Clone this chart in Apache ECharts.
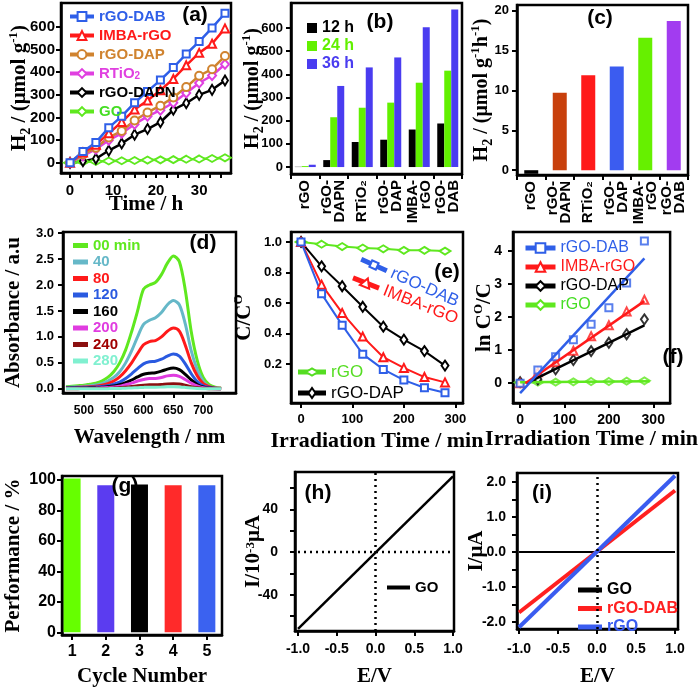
<!DOCTYPE html>
<html><head><meta charset="utf-8">
<script src="https://cdn.jsdelivr.net/npm/echarts@6/dist/echarts.min.js"></script>
<style>html,body{margin:0;padding:0;background:#fff}#c{width:700px;height:691px}</style>
</head><body><div id="c"></div>
<script>
const SANS = '"Liberation Sans", Arial, sans-serif';
const NARROW = '"Liberation Sans Narrow", "Arial Narrow", "Liberation Sans", Arial, sans-serif';
const SERIF = '"Liberation Serif", "Times New Roman", serif';

// ---------- (a) H2 evolution vs time ----------
const aTime  = [0,3,6,9,12,15,18,21,24,27,30,33,36];
const aDAB   = [0,50,90,155,205,265,315,365,420,480,535,595,660];
const aIMBA  = [0,45,80,130,180,235,275,320,370,430,485,525,593];
const aDAP   = [0,37,66,112,140,187,222,252,288,334,384,413,471];
const aRTiO2 = [0,30,60,100,130,170,205,232,265,308,352,385,435];
const aDAPN  = [0,7,18,54,85,124,149,179,234,263,300,322,363];
const aGO    = [0,5,6,8,9,10,12,13,14,16,17,19,22];
const aXTicks = [0,10,20,30];
const aXMinor = [2.5,5,7.5,12.5,15,17.5,22.5,25,27.5,32.5,35];
const aYTicks = [0,100,200,300,400,500,600];

// ---------- (b) H2 at 12/24/36 h ----------
const bCats = ['rGO','rGO-\nDAPN','RTiO₂','rGO-\nDAP','IMBA-\nrGO','rGO-\nDAB'];
const b12 = [1,30,108,118,162,188];
const b24 = [4,215,256,278,364,416];
const b36 = [10,350,430,473,603,680];
const bYTicks = [0,100,200,300,400,500,600];

// ---------- (c) H2 rate ----------
const cVals = [-0.45,9.7,11.9,13.0,16.6,18.7];
const cYTicks = [0,5,10,15,20];

// ---------- (d) absorbance spectra ----------
const dWave = [470,480,490,500,510,520,530,540,550,560,570,580,590,600,610,620,630,640,650,660,670,680,690,700,710,720,730];
const d00  = [0.04,0.05,0.06,0.07,0.09,0.11,0.15,0.22,0.33,0.5,0.75,1.1,1.5,1.92,2.0,2.05,2.2,2.42,2.56,2.45,1.9,1.1,0.55,0.22,0.08,0.03,0.01];
const d40  = [0.03,0.035,0.04,0.05,0.06,0.075,0.1,0.15,0.22,0.33,0.5,0.73,1.0,1.24,1.32,1.37,1.47,1.62,1.7,1.62,1.25,0.73,0.37,0.15,0.05,0.02,0.01];
const d80  = [0.02,0.025,0.03,0.035,0.04,0.05,0.07,0.1,0.15,0.23,0.35,0.5,0.68,0.85,0.91,0.93,1.0,1.11,1.17,1.11,0.84,0.5,0.25,0.1,0.04,0.015,0.01];
const d120 = [0.015,0.02,0.02,0.025,0.03,0.035,0.045,0.06,0.09,0.13,0.2,0.29,0.39,0.48,0.52,0.53,0.57,0.63,0.67,0.63,0.48,0.29,0.14,0.06,0.025,0.01,0.005];
const d160 = [0.01,0.012,0.015,0.015,0.02,0.02,0.03,0.04,0.055,0.08,0.12,0.17,0.23,0.28,0.3,0.31,0.34,0.38,0.4,0.37,0.28,0.17,0.085,0.035,0.015,0.006,0.003];
const d200 = [0.006,0.008,0.01,0.01,0.012,0.015,0.02,0.025,0.035,0.05,0.08,0.11,0.15,0.18,0.2,0.2,0.22,0.25,0.26,0.24,0.18,0.11,0.055,0.023,0.01,0.004,0.002];
const d240 = [0.003,0.004,0.004,0.005,0.005,0.006,0.008,0.01,0.014,0.02,0.03,0.043,0.058,0.07,0.077,0.078,0.085,0.095,0.1,0.093,0.07,0.043,0.021,0.009,0.004,0.002,0.001];
const d280 = [0,0,0,0,0,0.002,0.003,0.004,0.006,0.008,0.012,0.017,0.023,0.028,0.031,0.031,0.034,0.038,0.04,0.037,0.028,0.017,0.008,0.004,0.002,0.001,0];
const dNames = ['00 min','40','80','120','160','200','240','280'];
const dXTicks = [500,550,600,650,700];
const dYTicks = [0,0.5,1,1.5,2,2.5,3];

// ---------- (e) C/C0 ----------
const eTime = [0,40,80,120,160,200,240,280];
const eDAB  = [1.0,0.66,0.455,0.265,0.165,0.095,0.045,0.012];
const eIMBA = [1.0,0.72,0.535,0.38,0.245,0.175,0.115,0.08];
const eDAP  = [1.0,0.84,0.71,0.575,0.445,0.36,0.285,0.19];
const eRGO  = [1.0,0.985,0.97,0.96,0.955,0.945,0.945,0.94];
const eXTicks = [0,100,200,300];
const eYTicks = [0.2,0.4,0.6,0.8,1.0];

// ---------- (f) ln C0/C ----------
const fDAB  = [0,0.4,0.8,1.31,1.78,2.28,3.03,4.3];
const fIMBA = [0,0.33,0.63,0.98,1.42,1.75,2.17,2.52];
const fDAP  = [0.03,0.12,0.42,0.7,0.97,1.22,1.48,1.93];
const fRGO  = [0.02,0.03,0.03,0.04,0.05,0.05,0.06,0.07];
const fFitDAB  = [[0,-0.3],[280,3.77]];
const fFitIMBA = [[12,0],[280,2.48]];
const fFitDAP  = [[15,0],[280,1.75]];
const fFitRGO  = [[0,0.03],[292,0.06]];
const fXTicks = [0,100,200,300];
const fYTicks = [0,1,2,3,4];

// ---------- (g) cycling ----------
const gCycle = [1,2,3,4,5];
const gPerf  = [101,96.5,97,96.5,96.5];
const gYTicks = [0,20,40,60,80,100];

// ---------- (h) I-V GO ----------
const hE  = [-1,1];
const hGO = [-72,71];
const hZero = [0,0];
const hXTicks = [-1,-0.5,0,0.5,1];
const hYTicks = [-40,0,40];
const hYMinor = [-60,-20,20,60];

// ---------- (i) I-V ----------
const iE   = [-1,1];
const iGO  = [0,0];
const iDAB = [-1.73,1.75];
const iRGO = [-2.15,2.17];
const iXTicks = [-1,-0.5,0,0.5,1];
const iYTicks = [-2,-1,0,1,2];
const iYMinor = [-1.5,-0.5,0.5,1.5];

// ---------------- styling ----------------
const C = {blue:'#2f5fe8', red:'#ff1a1a', orange:'#d0832f', mag:'#e040e0', black:'#000', green:'#5fe81f'};
const bColors = ['#000000','#62f000','#4a3cf0'];
const cColors = ['#000000','#c8400c','#ff1a1a','#3b5cf0','#66f000','#a23cf0'];
const gColors = ['#66ff00','#5b3cf0','#000000','#ff2a2a','#3b62f0'];
const dColors = ['#5fe81f','#66b8c8','#ff1a1a','#2a5ae0','#000000','#e03ce0','#8b1010','#80f0d0'];

const RICH = {
  sub:{fontFamily:SERIF,fontWeight:'bold',fontSize:14,lineHeight:10,verticalAlign:'bottom',color:'#000'},
  sup:{fontFamily:SERIF,fontWeight:'bold',fontSize:13,lineHeight:10,verticalAlign:'top',color:'#000'}
};
function axis(o){
  const a = {
    type:o.type||'value', gridIndex:o.g,
    axisLine:{show:true,onZero:false,lineStyle:{color:'#000',width:2.5}},
    axisTick:{show:true,length:o.tickLen||5,lineStyle:{color:'#000',width:2}},
    minorTick:{show:false},
    splitLine:{show:false}, minorSplitLine:{show:false},
    axisLabel:Object.assign({color:'#000',fontFamily:SANS,fontWeight:'bold',fontSize:o.fs||13,margin:o.margin||6,hideOverlap:false}, o.label||{}),
    name:o.name||'', nameLocation:'middle', nameGap:o.gap||20, nameMoveOverlap:false,
    nameTextStyle:{fontFamily:SERIF,fontWeight:'bold',fontSize:o.nfs||21,color:'#000',lineHeight:o.nlh||26,rich:RICH}
  };
  if (o.type === 'category') { a.data = o.data; a.boundaryGap = true; }
  else {
    a.min = o.min; a.max = o.max;
    const dec = o.dec || 0;
    a.axisLabel.customValues = o.ticks;
    a.axisLabel.formatter = v => Number(v).toFixed(dec);
    a.axisTick.customValues = o.ticks.concat(o.minor || []).sort((p,q)=>p-q);
  }
  return a;
}
function pairs(xs, ys){ return xs.map((x,i)=>[x, ys[i]]); }
function lineS(name, idx, data, color, sym, size, width, extra){
  return Object.assign({
    type:'line', name, xAxisIndex:idx, yAxisIndex:idx, data,
    symbol:sym||'none', symbolSize:size||6, showSymbol:!!sym,
    lineStyle:{color, width:width||2}, itemStyle:{color, borderWidth:2},
    animation:false, silent:true
  }, extra||{});
}
const nameFmt = n => { const s = n.split('|')[0]; return s === 'RTiO2' ? 'RTiO{s|2}' : s; };
const catLabel = {rotate:90,margin:6,fontSize:15,lineHeight:13,fontFamily:NARROW,fontWeight:'bold',color:'#000'};

const grids = [
  {left:61, top:3, width:170, height:170},   // a
  {left:291, top:3, width:171, height:171},  // b
  {left:517, top:5, width:171, height:170},  // c
  {left:62, top:232, width:174, height:161}, // d
  {left:291, top:232, width:172, height:171},// e
  {left:513, top:232, width:180, height:171},// f
  {left:61, top:476, width:161, height:159}, // g
  {left:295, top:472, width:159, height:161},// h
  {left:517, top:473, width:161, height:160} // i
].map(g => Object.assign({show:true,borderColor:'#000',borderWidth:2.5,backgroundColor:'rgba(0,0,0,0)'}, g));

const xAxes = [
  axis({g:0,min:-2.1,max:37.4,ticks:aXTicks,minor:aXMinor,fs:15,margin:10,name:'Time / h',gap:19}),
  axis({g:1,type:'category',data:bCats,label:catLabel}),
  axis({g:2,type:'category',data:bCats,label:catLabel}),
  axis({g:3,min:465,max:755,ticks:dXTicks,fs:12,margin:12,name:'Wavelength / nm',gap:32}),
  axis({g:4,min:-19.5,max:315,ticks:eXTicks,fs:13,margin:10,name:'Irradiation Time / min',gap:25,nfs:22}),
  axis({g:5,min:-16,max:338,ticks:fXTicks,fs:14,margin:10,name:'Irradiation Time / min',gap:23,nfs:22}),
  axis({g:6,min:0.7,max:5.45,ticks:gCycle,fs:16,margin:9,name:'Cycle Number',gap:29}),
  axis({g:7,min:-1.039,max:1.013,ticks:hXTicks,dec:1,fs:14,margin:11,name:'E/V',gap:33}),
  axis({g:8,min:-1.026,max:1.038,ticks:iXTicks,dec:1,fs:14,margin:13,name:'E/V',gap:35})
];
const yAxes = [
  axis({g:0,min:-45,max:705,ticks:aYTicks,fs:15,margin:6,name:'H{sub|2} / (μmol g{sup|-1})',gap:28}),
  axis({g:1,min:-30,max:708,ticks:bYTicks,fs:13,margin:8,name:'H{sub|2} / (μmol g{sup|-1})',gap:25,nfs:20}),
  axis({g:2,min:-0.6,max:20.7,ticks:cYTicks,fs:13,margin:8,name:'H{sub|2} / (μmol g{sup|-1}h{sup|-1})',gap:22,nfs:20}),
  axis({g:3,min:-0.08,max:3.02,ticks:dYTicks,dec:1,fs:13,margin:9,name:'Absorbance / a.u',gap:36}),
  axis({g:4,min:-0.055,max:1.065,ticks:eYTicks,dec:1,fs:13,margin:9,name:'C/C{sup|O}',gap:33}),
  axis({g:5,min:-0.6,max:4.57,ticks:fYTicks,fs:14,margin:11,name:'ln C{sup|O}/C',gap:15}),
  axis({g:6,min:-1.8,max:102.6,ticks:gYTicks,fs:16,margin:6,name:'Performance / %',gap:35}),
  axis({g:7,min:-74,max:75,ticks:hYTicks,minor:hYMinor,fs:14,margin:17,name:'I/10{sup|-3}μA',gap:31,nlh:20}),
  axis({g:8,min:-2.2,max:2.25,ticks:iYTicks,minor:iYMinor,dec:1,fs:14,margin:11,name:'I/μA',gap:27})
];

const series = [];
// (a)
series.push(lineS('GO|a',0,pairs(aTime,aGO),C.green,'emptyDiamond',[12,7],2.5));
series.push(lineS('rGO-DAPN|a',0,pairs(aTime,aDAPN),C.black,'emptyDiamond',[6,10],2.5));
series.push(lineS('RTiO2|a',0,pairs(aTime,aRTiO2),C.mag,'emptyDiamond',[8,9],2.5));
series.push(lineS('rGO-DAP|a',0,pairs(aTime,aDAP),C.orange,'emptyCircle',8,2.5));
series.push(lineS('IMBA-rGO|a',0,pairs(aTime,aIMBA),C.red,'emptyTriangle',8,2.5));
series.push(lineS('rGO-DAB|a',0,pairs(aTime,aDAB),C.blue,'emptyRect',7,2.5));
// (b)
[['12 h',b12],['24 h',b24],['36 h',b36]].forEach((s,k)=>{
  series.push({type:'bar',name:s[0],xAxisIndex:1,yAxisIndex:1,data:s[1],barWidth:7,barGap:'0%',
    itemStyle:{color:bColors[k]},animation:false,silent:true});
});
// (c)
series.push({type:'bar',name:'rate|c',xAxisIndex:2,yAxisIndex:2,barWidth:14,animation:false,silent:true,
  data:cVals.map((v,i)=>({value:v,itemStyle:{color:cColors[i]}}))});
// (d)
[d00,d40,d80,d120,d160,d200,d240,d280].forEach((arr,k)=>{
  series.push(lineS(dNames[k]+'|d',3,pairs(dWave,arr),dColors[k],null,0,3,{smooth:0.3}));
});
// (e)
series.push(lineS('rGO|e',4,pairs(eTime,eRGO),C.green,'emptyDiamond',[11,7],2));
series.push(lineS('rGO-DAP|e',4,pairs(eTime,eDAP),C.black,'emptyDiamond',[7,10],2));
series.push(lineS('IMBA-rGO|e',4,pairs(eTime,eIMBA),C.red,'emptyTriangle',8,2));
series.push(lineS('rGO-DAB|e',4,pairs(eTime,eDAB),C.blue,'emptyRect',7,2));
// (f) fit lines (legend) + points
series.push(lineS('rGO|f',5,fFitRGO,C.green,'emptyDiamond',[11,7],2.5,{showSymbol:false}));
series.push(lineS('rGO-DAP|f',5,fFitDAP,C.black,'emptyDiamond',[7,10],2.5,{showSymbol:false}));
series.push(lineS('IMBA-rGO|f',5,fFitIMBA,C.red,'emptyTriangle',8,2.5,{showSymbol:false}));
series.push(lineS('rGO-DAB|f',5,fFitDAB,C.blue,'emptyRect',7,2.5,{showSymbol:false}));
[[fRGO,C.green,'emptyDiamond',[11,7]],[fDAP,C.black,'emptyDiamond',[7,10]],[fIMBA,C.red,'emptyTriangle',8],[fDAB,C.blue,'emptyRect',7]].forEach((s,k)=>{
  series.push({type:'scatter',name:'pts'+k+'|f',xAxisIndex:5,yAxisIndex:5,data:pairs(eTime,s[0]),symbol:s[2],symbolSize:s[3],
    itemStyle:{color:s[1],borderWidth:2},animation:false,silent:true});
});
// (g)
series.push({type:'bar',name:'perf|g',xAxisIndex:6,yAxisIndex:6,barWidth:17,animation:false,silent:true,
  data:gCycle.map((c,i)=>({value:[c,gPerf[i]],itemStyle:{color:gColors[i]}}))});
// (h)
series.push(lineS('zero|h',7,pairs(hE,hZero),C.black,null,0,2.5,{lineStyle:{color:'#000',width:2.5,type:[2,4]}}));
series.push(lineS('GO|h',7,pairs(hE,hGO),C.black,null,0,2.5,{
  markLine:{silent:true,symbol:['none','none'],label:{show:false},animation:false,
    lineStyle:{type:[2,4],color:'#000',width:2.5},data:[{xAxis:0}]}}));
// (i)
series.push(lineS('GO|i',8,pairs(iE,iGO),C.black,null,0,2,{
  markLine:{silent:true,symbol:['none','none'],label:{show:false},animation:false,
    lineStyle:{type:[2,4],color:'#000',width:2.5},data:[{xAxis:0}]}}));
series.push(lineS('rGO-DAB|i',8,pairs(iE,iDAB),'#ff2020',null,0,4));
series.push(lineS('rGO|i',8,pairs(iE,iRGO),'#3a5cf0',null,0,4));

const legTxt = (fs, w) => ({fontFamily:SANS,fontWeight:w||'bold',fontSize:fs,
  rich:{s:{fontFamily:SANS,fontWeight:'bold',fontSize:10,lineHeight:6,verticalAlign:'bottom',color:C.mag}}});
const legend = [
  {left:63,top:4,orient:'vertical',itemWidth:24,itemHeight:11,itemGap:4,selectedMode:false,formatter:nameFmt,
   textStyle:legTxt(15),lineStyle:{width:4},
   data:[['rGO-DAB|a',C.blue],['IMBA-rGO|a',C.red],['rGO-DAP|a',C.orange],['RTiO2|a',C.mag],['rGO-DAPN|a',C.black],['GO|a','#44dd22']]
     .map(d=>({name:d[0],textStyle:{color:d[1]}}))},
  {left:302,top:15,orient:'vertical',icon:'rect',itemWidth:10,itemHeight:10,itemGap:2,selectedMode:false,
   textStyle:legTxt(16),
   data:['12 h','24 h','36 h'].map((n,k)=>({name:n,textStyle:{color:bColors[k]}}))},
  {left:68,top:233,orient:'vertical',icon:'rect',itemWidth:15,itemHeight:5,itemGap:1.5,selectedMode:false,formatter:nameFmt,
   textStyle:legTxt(15),
   data:dNames.map((n,k)=>({name:n+'|d',textStyle:{color:k===6?'#a00000':dColors[k]}}))},
  {left:518,top:235,orient:'vertical',itemWidth:30,itemHeight:12,itemGap:3,selectedMode:false,formatter:nameFmt,
   textStyle:legTxt(16,'normal'),lineStyle:{width:5},
   data:[['rGO-DAB|f',C.blue],['IMBA-rGO|f',C.red],['rGO-DAP|f',C.black],['rGO|f','#44dd22']].map(d=>({name:d[0],textStyle:{color:d[1]}}))},
  {left:382,top:575,orient:'vertical',icon:'rect',itemWidth:23,itemHeight:4,selectedMode:false,formatter:nameFmt,
   textStyle:legTxt(15),data:[{name:'GO|h',textStyle:{color:'#000'}}]},
  {left:573,top:577,orient:'vertical',icon:'rect',itemWidth:24,itemHeight:5,itemGap:2.5,selectedMode:false,formatter:nameFmt,
   textStyle:legTxt(16),
   data:[['GO|i','#000'],['rGO-DAB|i','#ff2020'],['rGO|i','#3a5cf0']].map(d=>({name:d[0],textStyle:{color:d[1]}}))}
];

const panelLabels = [['(a)',195,15],['(b)',380,22],['(c)',600,18],['(d)',203,243],['(e)',447,272],['(f)',673,357],['(g)',125,486],['(h)',318,493],['(i)',542,493]];
const graphic = panelLabels.map(p=>({type:'text',x:p[1],y:p[2],silent:true,z:100,
  style:{text:p[0],fill:'#000',fontFamily:SANS,fontWeight:'bold',fontSize:21,align:'center',verticalAlign:'middle'}}));
// (e) custom legends
function legItem(x,y,rot,color,marker,label,fontSize){
  return {type:'group',x,y,rotation:rot,silent:true,z:100,children:[
    {type:'line',shape:{x1:-14,y1:0,x2:14,y2:0},style:{stroke:color,lineWidth:5}},
    marker,
    {type:'text',x:19,y:0,style:{text:label,fill:color,fontFamily:SANS,fontSize:fontSize||16,align:'left',verticalAlign:'middle'}}
  ]};
}
graphic.push(legItem(374,265,-0.42,C.blue,{type:'rect',shape:{x:-3.5,y:-3.5,width:7,height:7},style:{fill:'#fff',stroke:C.blue,lineWidth:2}},'rGO-DAB',17));
graphic.push(legItem(366,283,-0.38,C.red,{type:'polygon',shape:{points:[[0,-5],[5,4],[-5,4]]},style:{fill:'#fff',stroke:C.red,lineWidth:2}},'IMBA-rGO',17));
graphic.push(legItem(312,372,0,'#55dd22',{type:'polygon',shape:{points:[[-6,0],[0,-3.5],[6,0],[0,3.5]]},style:{fill:'#fff',stroke:'#55dd22',lineWidth:2}},'rGO',17));
graphic.push(legItem(312,393,0,'#000',{type:'polygon',shape:{points:[[-3.5,0],[0,-5],[3.5,0],[0,5]]},style:{fill:'#fff',stroke:'#000',lineWidth:2}},'rGO-DAP',17));

const chart = echarts.init(document.getElementById('c'), null, {renderer:'canvas',width:700,height:691});
chart.setOption({backgroundColor:'#fff',animation:false,grid:grids,xAxis:xAxes,yAxis:yAxes,series,legend,graphic});
</script></body></html>
